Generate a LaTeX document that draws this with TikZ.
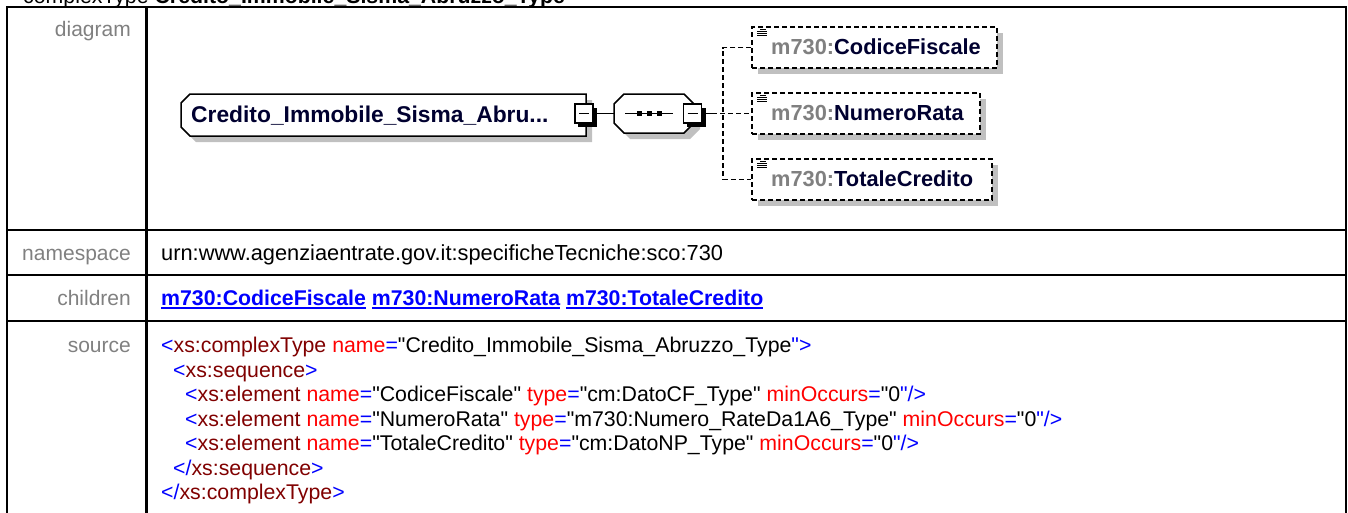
\documentclass[tikz,border=0pt]{standalone}
\usepackage{fontspec}
\setmainfont{Liberation Sans}[Ligatures=TeXOff]
\definecolor{lblgray}{RGB}{128,128,128}
\definecolor{shgray}{RGB}{192,192,192}
\definecolor{xblue}{RGB}{0,0,255}
\definecolor{xtag}{RGB}{128,0,0}
\definecolor{xattr}{RGB}{255,0,0}
\definecolor{elemtxt}{RGB}{0,0,48}
\newcommand\Bl[1]{\textcolor{xblue}{#1}}
\newcommand\Tg[1]{\textcolor{xtag}{#1}}
\newcommand\At[1]{\textcolor{xattr}{#1}}
\newcommand\lnkul[1]{\setbox0\hbox{#1}\rlap{\rule[-4pt]{\wd0}{2pt}}\box0\relax}
\begin{document}
\begin{tikzpicture}[x=1pt,y=-1pt,
  tbl/.style={line width=2.4pt},
  lbl/.style={anchor=base east, inner sep=0, text=lblgray, font=\fontsize{21}{24}\selectfont},
  txt/.style={anchor=base west, inner sep=0, font=\fontsize{21.3}{24.4}\selectfont},
  boxline/.style={draw=black, line width=1.5pt, fill=white},
  sq/.style={draw=black, line width=1.2pt, fill=white, minimum width=18pt, minimum height=19pt, inner sep=0},
  hit/.style={inner sep=0, draw=none},
  child/.style={draw=black, line width=1.5pt, dash pattern=on 5pt off 3pt, fill=white, minimum height=41pt, inner sep=0},
  conn/.style={line width=1.3pt},
  dconn/.style={line width=1.3pt, dash pattern=on 5pt off 3pt},
  elem/.style={anchor=base west, inner sep=0, font=\bfseries\fontsize{21.8}{24}\selectfont, text=elemtxt},
  icon/.style={line width=1pt}]
\useasboundingbox (0,0) rectangle (1348,512);
% title (clipped at top, as in the reference)
\node[txt] (title) at (23,3) {complexType \textbf{Credito\_Immobile\_Sisma\_Abruzzo\_Type}};
% table
\draw[tbl] (7,7) rectangle (1346,540);
\draw[tbl] (146.5,7) -- (146.5,540);
\draw[tbl] (7,230) -- (1346,230);
\draw[tbl] (7,275) -- (1346,275);
\draw[tbl] (7,321) -- (1346,321);
% labels
\node[lbl] (ldiag) at (131,36.7) {diagram};
\node[lbl] (lns) at (131,260) {namespace};
\node[lbl] (lch) at (131,305) {children};
\node[lbl] (lsrc) at (131,352) {source};
% invisible named nodes for shapes
\node[hit, minimum width=405pt, minimum height=42pt] (ct) at (383.5,115) {};
\node[hit, minimum width=80pt, minimum height=39pt] (seq) at (654,113.5) {};
\coordinate (jn) at (712,113.5);
\coordinate (bus) at (723,113.5);
% child shadows
\fill[shgray] (758,33) rectangle (1003,74);
\fill[shgray] (758,99) rectangle (986,140);
\fill[shgray] (758,165) rectangle (998,206);
% child nodes
\node[child, minimum width=245pt] (cf) at (874.5,47.5) {};
\node[child, minimum width=228pt] (nr) at (866,113.5) {};
\node[child, minimum width=240pt] (tc) at (872,179.5) {};
% square anchors; connectors first
\node[hit, minimum width=18pt, minimum height=19pt] (ctsqp) at (584,113.5) {};
\node[hit, minimum width=18pt, minimum height=19pt] (seqsqp) at (692.5,113.5) {};
\draw[conn] (ctsqp.east) -- (seq.west);
\draw[conn] (seqsqp.east) -- (jn);
\draw[dconn] (jn) -- (nr.west);
\draw[dconn] (cf.west) -- (cf.west -| bus) -- (tc.west -| bus) -- (tc.west);
% main box
\fill[shgray] (196,100) -- (592,100) -- (592,142) -- (196,142) -- (187,133) -- (187,109) -- cycle;
\draw[boxline] (190,94) -- (586,94) -- (586,136) -- (190,136) -- (181,127) -- (181,103) -- cycle;
\node[anchor=base west, inner sep=0, font=\bfseries\fontsize{22.8}{26}\selectfont, text=elemtxt] (ctlabel) at (191,122) {Credito\_Immobile\_Sisma\_Abru...};
\fill (578,108) rectangle (597,127);
\node[sq] (ctsq) at (584,113.5) {};
\draw[conn] ([xshift=-5pt]ctsq.center) -- ([xshift=5pt]ctsq.center);
% sequence
\fill[shgray] (630,100) -- (690,100) -- (700,110) -- (700,129) -- (690,139) -- (630,139) -- (620,129) -- (620,110) -- cycle;
\draw[boxline] (624,94) -- (684,94) -- (694,104) -- (694,123) -- (684,133) -- (624,133) -- (614,123) -- (614,104) -- cycle;
\draw[conn] (625,113.5) -- (673,113.5);
\fill (636.5,111) rectangle (641.5,116);
\fill (646.5,111) rectangle (651.5,116);
\fill (656.5,111) rectangle (661.5,116);
\fill (687,108) rectangle (706,127);
\node[sq] (seqsq) at (692.5,113.5) {};
\draw[conn] ([xshift=-5pt]seqsq.center) -- ([xshift=5pt]seqsq.center);
% child icons and texts
\foreach \t in {27,93,159}{
  \draw[icon] (760,\t+2) -- (766,\t+2);
  \draw[icon] (757,\t+4.3) -- (767,\t+4.3);
  \draw[icon] (757,\t+6.6) -- (767,\t+6.6);
  \draw[icon] (757,\t+8.9) -- (767,\t+8.9);
}
\node[elem] (cft) at (771,54.5) {\textcolor{lblgray}{m730:}CodiceFiscale};
\node[elem] (nrt) at (771,120.5) {\textcolor{lblgray}{m730:}NumeroRata};
\node[elem] (tct) at (771,186.5) {\textcolor{lblgray}{m730:}TotaleCredito};
% namespace & children
\node[txt, font=\fontsize{21.8}{24.4}\selectfont] (ns) at (161,260) {urn:www.agenziaentrate.gov.it:specificheTecniche:sco:730};
\node[txt, text=xblue, font=\bfseries\fontsize{21.3}{24.4}\selectfont] (links) at (161,305) {\lnkul{m730:CodiceFiscale} \lnkul{m730:NumeroRata} \lnkul{m730:TotaleCredito}};
% source
\node[txt] (s1) at (161,352.5) {\Bl{<}\Tg{xs:complexType} \At{name}\Bl{=}"Credito\_Immobile\_Sisma\_Abruzzo\_Type\Bl{">}};
\node[txt] (s2) at (173,377) {\Bl{<}\Tg{xs:sequence}\Bl{>}};
\node[txt] (s3) at (185,401.5) {\Bl{<}\Tg{xs:element} \At{name}\Bl{=}"CodiceFiscale" \At{type}\Bl{=}"cm:DatoCF\_Type" \At{minOccurs}\Bl{=}"0\Bl{"/>}};
\node[txt] (s4) at (185,426) {\Bl{<}\Tg{xs:element} \At{name}\Bl{=}"NumeroRata" \At{type}\Bl{=}"m730:Numero\_RateDa1A6\_Type" \At{minOccurs}\Bl{=}"0\Bl{"/>}};
\node[txt] (s5) at (185,450.5) {\Bl{<}\Tg{xs:element} \At{name}\Bl{=}"TotaleCredito" \At{type}\Bl{=}"cm:DatoNP\_Type" \At{minOccurs}\Bl{=}"0\Bl{"/>}};
\node[txt] (s6) at (173,475) {\Bl{</}\Tg{xs:sequence}\Bl{>}};
\node[txt] (s7) at (161,499.5) {\Bl{</}\Tg{xs:complexType}\Bl{>}};
\end{tikzpicture}
\end{document}
